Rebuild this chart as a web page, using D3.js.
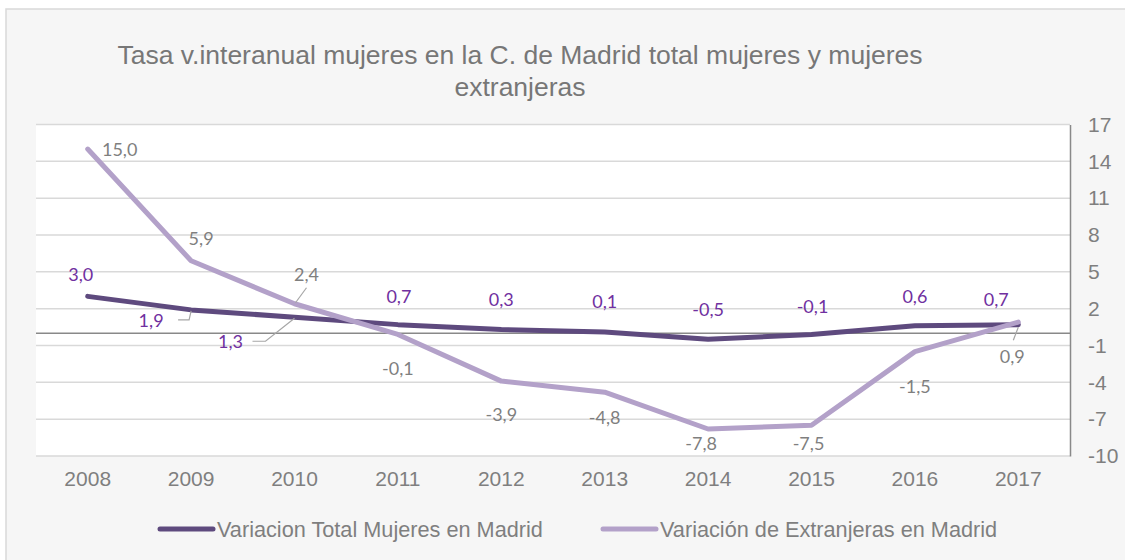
<!DOCTYPE html>
<html lang="es">
<head>
    <meta charset="UTF-8">
    <title>Tasa v.interanual mujeres</title>
    <script src="https://d3js.org/d3.v7.min.js"></script>
    <style>
        body {
            margin: 0;
            background: #fff;
        }
        .axis-label {
            font-family: "Liberation Sans", Arial, sans-serif;
            font-size: 20px;
            fill: #7f7f7f;
        }
        .title {
            font-family: "Liberation Sans", Arial, sans-serif;
            font-size: 26.5px;
            fill: #777;
        }
        .data-label {
            font-family: Lato, "Open Sans", sans-serif;
            font-size: 18px;
        }
    </style>
</head>
<body>
<svg id="chart" width="1125" height="560"></svg>
<script>
    // datos
    const years = ["2008", "2009", "2010", "2011", "2012", "2013", "2014", "2015", "2016", "2017"];
    const totalMujeres = [3.0, 1.9, 1.3, 0.7, 0.3, 0.1, -0.5, -0.1, 0.6, 0.7];
    const extranjeras = [15.0, 5.9, 2.4, -0.1, -3.9, -4.8, -7.8, -7.5, -1.5, 0.9];
    const yTicks = [17, 14, 11, 8, 5, 2, -1, -4, -7, -10];
    const seriesNames = ["Variacion Total Mujeres en Madrid", "Variación de Extranjeras en Madrid"];

    // desplazamiento de las etiquetas (como en el original)
    const totalOffsets = [[-7, -22], [-40, 10], [-64, 24], [1, -29], [0, -31], [0, -31], [0, -30], [1, -28], [0, -30], [-22, -26]];
    const extOffsets = [[32, 0], [10, -23], [12, -30], [0, 34], [0, 33], [0, 25], [-7, 14], [-3, 18], [0, 34], [-6, 34]];

    const colTotal = "#5e4a7e";
    const colExt = "#b3a1c9";

    const svg = d3.select("#chart");
    const W = 1125, H = 560;
    const plot = { left: 36, right: 1070, top: 124.5, bottom: 456 };

    // marco exterior
    svg.append("rect")
        .attr("x", 6).attr("y", 9)
        .attr("width", W + 20).attr("height", H + 20)
        .attr("fill", "#f6f6f6")
        .attr("stroke", "#d9d9d9")
        .attr("stroke-width", 1.5);

    // titulo
    const title = svg.append("text").attr("class", "title").attr("text-anchor", "middle");
    title.append("tspan").attr("x", 520).attr("y", 64).text("Tasa v.interanual mujeres en la C. de Madrid total mujeres y mujeres");
    title.append("tspan").attr("x", 520).attr("y", 96).text("extranjeras");

    const x = d3.scaleBand().domain(years).range([plot.left, plot.right]);
    const y = d3.scaleLinear().domain([-10, 17]).range([plot.bottom, plot.top]);

    svg.append("rect")
        .attr("x", plot.left).attr("y", plot.top)
        .attr("width", plot.right - plot.left).attr("height", plot.bottom - plot.top)
        .attr("fill", "#fff");

    // rejilla
    svg.append("g").selectAll("line")
        .data(yTicks)
        .join("line")
        .attr("x1", plot.left).attr("x2", plot.right)
        .attr("y1", d => y(d)).attr("y2", d => y(d))
        .attr("stroke", "#d9d9d9")
        .attr("stroke-width", 1.5);

    svg.append("line")
        .attr("x1", plot.left).attr("x2", plot.right)
        .attr("y1", y(0)).attr("y2", y(0))
        .attr("stroke", "#898989")
        .attr("stroke-width", 1.5);

    // eje derecho
    const yAxis = svg.append("g")
        .attr("transform", `translate(${plot.right},0)`)
        .call(d3.axisRight(y).tickValues(yTicks).tickSize(0).tickPadding(18).tickFormat(d => String(d)));
    yAxis.select(".domain").attr("stroke", "#898989").attr("stroke-width", 1.5);
    yAxis.selectAll("text").attr("class", "axis-label").attr("fill", null).style("font-size", "21px");

    // eje x
    const xAxis = svg.append("g")
        .attr("transform", `translate(0,${plot.bottom})`)
        .call(d3.axisBottom(x).tickSize(0).tickPadding(15));
    xAxis.select(".domain").remove();
    xAxis.selectAll("text").attr("class", "axis-label").attr("fill", null).style("font-size", "21px");

    const cx = d => x(d) + x.bandwidth() / 2;
    const line = d3.line().x(d => cx(d[0])).y(d => y(d[1]));

    svg.append("path")
        .datum(years.map((yr, i) => [yr, totalMujeres[i]]))
        .attr("d", line)
        .attr("fill", "none")
        .attr("stroke", colTotal)
        .attr("stroke-width", 5)
        .attr("stroke-linecap", "round")
        .attr("stroke-linejoin", "round");

    svg.append("path")
        .datum(years.map((yr, i) => [yr, extranjeras[i]]))
        .attr("d", line)
        .attr("fill", "none")
        .attr("stroke", colExt)
        .attr("stroke-width", 5)
        .attr("stroke-linecap", "round")
        .attr("stroke-linejoin", "round");

    const fmt = v => v.toFixed(1).replace(".", ",");

    // lineas guia de etiquetas desplazadas
    const leaders = svg.append("g").attr("fill", "none").attr("stroke", "#a6a6a6").attr("stroke-width", 1.2);
    leaders.append("polyline").attr("points", [[cx("2009") - 13, y(1.9) + 10], [cx("2009") - 2, y(1.9) + 10], [cx("2009"), y(1.9) + 1]].join(" "));
    leaders.append("polyline").attr("points", [[cx("2010") - 42, y(1.3) + 24], [cx("2010") - 29, y(1.3) + 24], [cx("2010"), y(1.3) + 1]].join(" "));
    leaders.append("polyline").attr("points", [[cx("2010") + 12, y(2.4) - 16], [cx("2010") + 1, y(2.4) - 1]].join(" "));
    leaders.append("polyline").attr("points", [[cx("2017"), y(0.9) + 5], [cx("2017") - 5, y(0.9) + 18]].join(" "));

    svg.append("g").selectAll("text")
        .data(years)
        .join("text")
        .attr("class", "data-label")
        .attr("x", (d, i) => cx(d) + totalOffsets[i][0])
        .attr("y", (d, i) => y(totalMujeres[i]) + totalOffsets[i][1])
        .attr("text-anchor", "middle")
        .attr("dominant-baseline", "central")
        .attr("fill", "#7030a0")
        .text((d, i) => fmt(totalMujeres[i]));

    svg.append("g").selectAll("text")
        .data(years)
        .join("text")
        .attr("class", "data-label")
        .attr("x", (d, i) => cx(d) + extOffsets[i][0])
        .attr("y", (d, i) => y(extranjeras[i]) + extOffsets[i][1])
        .attr("text-anchor", "middle")
        .attr("dominant-baseline", "central")
        .attr("fill", "#7f7f7f")
        .text((d, i) => fmt(extranjeras[i]));

    // leyenda
    const legendItems = [
        { name: seriesNames[0], color: colTotal, x: 158 },
        { name: seriesNames[1], color: colExt, x: 601 }
    ];
    const legend = svg.append("g").selectAll("g")
        .data(legendItems)
        .join("g")
        .attr("transform", d => `translate(${d.x},529)`);
    legend.append("line")
        .attr("x1", 2).attr("x2", 55)
        .attr("stroke", d => d.color)
        .attr("stroke-width", 5)
        .attr("stroke-linecap", "round");
    legend.append("text")
        .attr("class", "axis-label")
        .attr("x", 59)
        .attr("dominant-baseline", "central")
        .style("font-size", "21.7px")
        .text(d => d.name);
</script>
</body>
</html>
